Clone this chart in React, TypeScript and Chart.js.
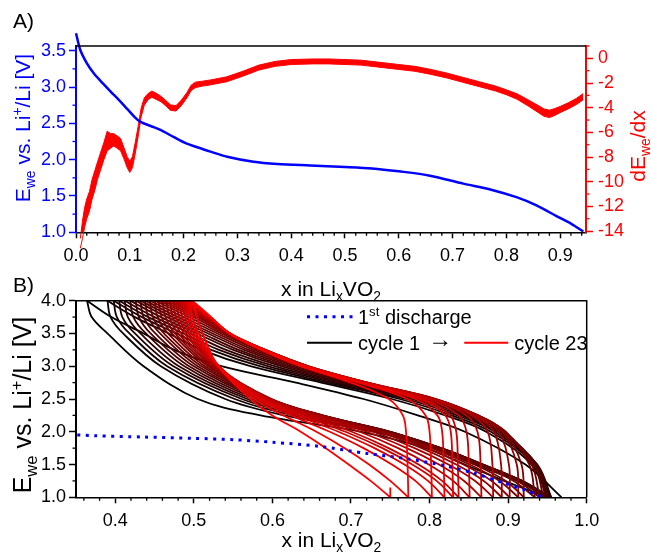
import React, { useEffect, useRef } from 'react';
import { Chart, registerables } from 'chart.js';

Chart.register(...registerables);

const FONT = '"Liberation Sans", Arial, Helvetica, sans-serif';
const W = 651;
const H = 554;
const TICK_FONT = 18;
const TITLE_FONT = 21;
const LEGEND_FONT = 20;

// ---------------- Panel A: first discharge E_we(x) ----------------
const firstX = [0, 0.008, 0.02, 0.033, 0.05, 0.064, 0.08, 0.095, 0.11, 0.12, 0.14, 0.157, 0.182, 0.206, 0.23, 0.25, 0.281, 0.33, 0.374, 0.435, 0.5, 0.55, 0.6, 0.658, 0.72, 0.77, 0.82, 0.856, 0.894, 0.92, 0.943];
const firstE = [3.74, 3.51, 3.33, 3.19, 3.05, 2.94, 2.82, 2.70, 2.58, 2.52, 2.46, 2.41, 2.31, 2.22, 2.16, 2.11, 2.04, 1.97, 1.94, 1.92, 1.90, 1.88, 1.84, 1.78, 1.67, 1.59, 1.48, 1.37, 1.22, 1.12, 1.01];

// Panel A: dE_we/dx (noisy trace: centre and half-width of the band)
const dX = [0.008, 0.012, 0.016, 0.020, 0.025, 0.030, 0.035, 0.040, 0.046, 0.052,
  0.058, 0.064, 0.070, 0.077, 0.083, 0.090, 0.095, 0.100, 0.105, 0.110,
  0.116, 0.121, 0.127, 0.134, 0.141, 0.150, 0.158, 0.166, 0.176, 0.186,
  0.196, 0.206, 0.214, 0.222, 0.235, 0.250, 0.280, 0.310, 0.340, 0.370,
  0.400, 0.440, 0.470, 0.500, 0.530, 0.560, 0.600, 0.630, 0.660, 0.690,
  0.720, 0.750, 0.780, 0.800, 0.820, 0.840, 0.857, 0.870, 0.880, 0.890,
  0.900, 0.915, 0.930, 0.943];
const dMid = [-15.0, -13.9, -12.9, -12.2, -11.6, -10.6, -9.9, -9.1, -8.3, -7.5,
  -6.7, -6.7, -6.6, -6.8, -7.0, -7.8, -8.4, -8.8, -8.4, -7.3,
  -5.8, -4.4, -3.5, -3.1, -2.9, -3.1, -3.3, -3.6, -4.0, -4.05,
  -3.6, -3.0, -2.4, -2.15, -2.05, -1.95, -1.7, -1.25, -0.75, -0.45,
  -0.3, -0.25, -0.25, -0.3, -0.35, -0.5, -0.7, -0.85, -1.1, -1.4,
  -1.75, -2.1, -2.45, -2.75, -3.1, -3.6, -4.05, -4.4, -4.5, -4.35,
  -4.15, -3.85, -3.5, -3.1];
const dSpread = [0.4, 0.7, 0.8, 0.8, 0.8, 0.8, 0.8, 0.7, 0.7, 0.7,
  0.8, 0.6, 0.5, 0.5, 0.5, 0.45, 0.45, 0.45, 0.45, 0.45,
  0.4, 0.35, 0.3, 0.25, 0.25, 0.25, 0.22, 0.22, 0.22, 0.22,
  0.22, 0.22, 0.22, 0.22, 0.2, 0.2, 0.2, 0.2, 0.2, 0.2,
  0.2, 0.2, 0.2, 0.2, 0.2, 0.2, 0.2, 0.2, 0.2, 0.2,
  0.2, 0.2, 0.2, 0.2, 0.22, 0.25, 0.28, 0.3, 0.3, 0.28,
  0.25, 0.25, 0.25, 0.25];

// ---------------- Panel B: cycles 1..23 ----------------
const dischargeV = [4.0, 3.75, 3.5, 3.0, 2.5, 2.25, 2.0, 1.75, 1.5, 1.25, 1.0];
const chargeV = [1.0, 1.5, 2.0, 2.25, 2.5, 2.75, 3.0, 3.25, 3.5, 3.75, 4.0];

const dischargeXByCycle = [
  [0.364, 0.370, 0.390, 0.436, 0.505, 0.585, 0.713, 0.795, 0.845, 0.895, 0.950],
  [0.390, 0.394, 0.410, 0.458, 0.540, 0.615, 0.730, 0.805, 0.858, 0.912, 0.952],
  [0.398, 0.402, 0.418, 0.466, 0.552, 0.627, 0.737, 0.809, 0.862, 0.915, 0.954],
  [0.405, 0.409, 0.425, 0.474, 0.561, 0.636, 0.741, 0.811, 0.865, 0.917, 0.955],
  [0.412, 0.416, 0.432, 0.481, 0.568, 0.643, 0.745, 0.813, 0.867, 0.918, 0.953],
  [0.419, 0.423, 0.439, 0.488, 0.574, 0.649, 0.747, 0.814, 0.868, 0.918, 0.950],
  [0.426, 0.430, 0.445, 0.494, 0.580, 0.654, 0.749, 0.815, 0.868, 0.917, 0.948],
  [0.432, 0.436, 0.451, 0.500, 0.585, 0.658, 0.750, 0.815, 0.868, 0.915, 0.945],
  [0.438, 0.442, 0.457, 0.505, 0.589, 0.661, 0.750, 0.814, 0.866, 0.912, 0.940],
  [0.444, 0.448, 0.462, 0.510, 0.592, 0.663, 0.749, 0.812, 0.863, 0.907, 0.934],
  [0.450, 0.454, 0.467, 0.514, 0.595, 0.664, 0.747, 0.808, 0.857, 0.897, 0.920],
  [0.455, 0.459, 0.472, 0.518, 0.597, 0.664, 0.744, 0.803, 0.851, 0.889, 0.913],
  [0.460, 0.464, 0.476, 0.521, 0.598, 0.663, 0.740, 0.797, 0.843, 0.879, 0.902],
  [0.465, 0.469, 0.480, 0.524, 0.599, 0.661, 0.735, 0.790, 0.834, 0.869, 0.892],
  [0.470, 0.473, 0.484, 0.526, 0.598, 0.658, 0.728, 0.781, 0.824, 0.858, 0.881],
  [0.474, 0.477, 0.488, 0.528, 0.597, 0.654, 0.720, 0.771, 0.812, 0.844, 0.866],
  [0.478, 0.481, 0.491, 0.529, 0.595, 0.649, 0.711, 0.760, 0.799, 0.830, 0.851],
  [0.482, 0.485, 0.494, 0.530, 0.592, 0.643, 0.701, 0.748, 0.786, 0.816, 0.837],
  [0.486, 0.489, 0.497, 0.531, 0.589, 0.637, 0.693, 0.740, 0.778, 0.809, 0.830],
  [0.489, 0.492, 0.500, 0.532, 0.586, 0.631, 0.684, 0.730, 0.768, 0.798, 0.819],
  [0.492, 0.495, 0.503, 0.532, 0.582, 0.624, 0.673, 0.716, 0.752, 0.782, 0.803],
  [0.495, 0.498, 0.506, 0.532, 0.577, 0.614, 0.656, 0.692, 0.723, 0.750, 0.773],
  [0.498, 0.504, 0.511, 0.531, 0.572, 0.600, 0.636, 0.668, 0.697, 0.725, 0.750],
];

const chargeXByCycle = [
  [0.968, 0.922, 0.845, 0.785, 0.716, 0.630, 0.535, 0.475, 0.436, 0.395, 0.364],
  [0.950, 0.930, 0.872, 0.820, 0.752, 0.662, 0.572, 0.510, 0.468, 0.425, 0.390],
  [0.952, 0.933, 0.878, 0.828, 0.762, 0.670, 0.584, 0.522, 0.478, 0.434, 0.398],
  [0.954, 0.935, 0.883, 0.835, 0.770, 0.677, 0.594, 0.532, 0.487, 0.442, 0.405],
  [0.955, 0.937, 0.887, 0.841, 0.777, 0.684, 0.603, 0.541, 0.496, 0.450, 0.412],
  [0.953, 0.937, 0.890, 0.846, 0.783, 0.690, 0.611, 0.550, 0.504, 0.458, 0.419],
  [0.950, 0.936, 0.892, 0.850, 0.788, 0.696, 0.618, 0.557, 0.511, 0.466, 0.426],
  [0.948, 0.935, 0.894, 0.854, 0.793, 0.701, 0.624, 0.564, 0.518, 0.473, 0.432],
  [0.945, 0.933, 0.895, 0.857, 0.797, 0.706, 0.630, 0.570, 0.524, 0.480, 0.438],
  [0.940, 0.930, 0.896, 0.859, 0.800, 0.710, 0.635, 0.576, 0.530, 0.487, 0.444],
  [0.934, 0.927, 0.897, 0.861, 0.803, 0.713, 0.639, 0.581, 0.535, 0.494, 0.450],
  [0.920, 0.917, 0.895, 0.862, 0.805, 0.716, 0.642, 0.585, 0.539, 0.500, 0.455],
  [0.913, 0.911, 0.893, 0.862, 0.807, 0.718, 0.644, 0.588, 0.542, 0.505, 0.460],
  [0.902, 0.901, 0.888, 0.860, 0.808, 0.720, 0.645, 0.590, 0.544, 0.509, 0.465],
  [0.892, 0.891, 0.882, 0.858, 0.808, 0.721, 0.646, 0.591, 0.545, 0.512, 0.470],
  [0.881, 0.880, 0.874, 0.854, 0.806, 0.721, 0.646, 0.591, 0.546, 0.515, 0.474],
  [0.866, 0.865, 0.861, 0.847, 0.803, 0.721, 0.646, 0.591, 0.546, 0.517, 0.478],
  [0.851, 0.850, 0.847, 0.837, 0.798, 0.720, 0.645, 0.591, 0.546, 0.518, 0.482],
  [0.837, 0.836, 0.834, 0.826, 0.792, 0.718, 0.644, 0.590, 0.546, 0.519, 0.486],
  [0.830, 0.829, 0.827, 0.820, 0.788, 0.717, 0.643, 0.590, 0.546, 0.520, 0.489],
  [0.819, 0.818, 0.816, 0.810, 0.782, 0.714, 0.642, 0.589, 0.546, 0.521, 0.492],
  [0.803, 0.802, 0.800, 0.795, 0.772, 0.710, 0.640, 0.588, 0.546, 0.521, 0.495],
  [0.773, 0.772, 0.770, 0.766, 0.748, 0.700, 0.636, 0.586, 0.545, 0.522, 0.498],
];

// short relaxation after the last discharge
const restX = [0.750, 0.750];
const restV = [1.0, 1.15];

// ---------------- helpers ----------------
type Part = [string, number?]; // 0 normal, 1 subscript, 2 superscript

function drawRich(ctx: CanvasRenderingContext2D, parts: Part[], x: number, y: number, size: number, color: string, align: 'left' | 'center', rotate = false) {
  ctx.save();
  ctx.translate(x, y);
  if (rotate) ctx.rotate(-Math.PI / 2);
  ctx.fillStyle = color;
  ctx.textBaseline = 'alphabetic';
  ctx.textAlign = 'left';
  const small = size * 0.66;
  const widths = parts.map(([t, s]) => {
    ctx.font = `${s ? small : size}px ${FONT}`;
    return ctx.measureText(t).width;
  });
  const total = widths.reduce((a, b) => a + b, 0);
  let cx = align === 'center' ? -total / 2 : 0;
  const base = size * 0.36;
  parts.forEach(([t, s], i) => {
    ctx.font = `${s ? small : size}px ${FONT}`;
    const dy = s === 1 ? size * 0.24 : s === 2 ? -size * 0.38 : 0;
    ctx.fillText(t, cx, base + dy);
    cx += widths[i];
  });
  ctx.restore();
  return total;
}

type MinorSpec = { id: string; step: number; major: number; side: 'bottom' | 'left' | 'right'; color: string };

function minorTicks(id: string, specs: MinorSpec[]) {
  return {
    id,
    afterDraw(chart: any) {
      const ctx = chart.ctx as CanvasRenderingContext2D;
      for (const s of specs) {
        const sc = chart.scales[s.id];
        const ratio = Math.round(s.major / s.step);
        const k0 = Math.ceil(sc.min / s.step - 1e-6);
        const k1 = Math.floor(sc.max / s.step + 1e-6);
        ctx.save();
        ctx.strokeStyle = s.color;
        ctx.lineWidth = 1.3;
        for (let k = k0; k <= k1; k++) {
          if (k % ratio === 0) continue;
          const p = sc.getPixelForValue(k * s.step);
          ctx.beginPath();
          if (s.side === 'bottom') { ctx.moveTo(p, sc.top); ctx.lineTo(p, sc.top + 3.5); }
          else if (s.side === 'left') { ctx.moveTo(sc.right, p); ctx.lineTo(sc.right - 3.5, p); }
          else { ctx.moveTo(sc.left, p); ctx.lineTo(sc.left + 3.5, p); }
          ctx.stroke();
        }
        ctx.restore();
      }
    },
  };
}

const pts = (xs: number[], ys: number[]) => xs.map((x, i) => ({ x, y: ys[i] }));
const cycleColor = (k: number) => `rgb(${Math.round((255 * k) / 22)},0,0)`;
const fmt1 = (v: any) => Number(v).toFixed(1);
const tickFont = { family: FONT, size: TICK_FONT };
const xTitle: Part[] = [['x in Li'], ['x', 1], ['VO'], ['2', 1]];
const eTitle: Part[] = [['E'], ['we', 1], [' vs. Li'], ['+', 2], ['/Li [V]']];

export default function App() {
  const refA = useRef<HTMLCanvasElement>(null);
  const refB = useRef<HTMLCanvasElement>(null);

  useEffect(() => {
    // ---------- chart A ----------
    const A_TOP = 46, A_BOTTOM = 232.3, XH = 30;
    const chartA = new Chart(refA.current as HTMLCanvasElement, {
      type: 'line',
      data: {
        datasets: [
          { data: pts(firstX, firstE), yAxisID: 'y', borderColor: '#0000ff', borderWidth: 2.5, pointRadius: 0, tension: 0.3, clip: false, order: 0 } as any,
          { data: pts(dX, dMid.map((m, i) => m + dSpread[i])), yAxisID: 'y2', borderColor: '#ff0000', borderWidth: 1, pointRadius: 0, tension: 0, fill: false, clip: false, order: 1 },
          { data: pts(dX, dMid.map((m, i) => m - dSpread[i])), yAxisID: 'y2', borderColor: '#ff0000', borderWidth: 1, pointRadius: 0, tension: 0, fill: '-1', backgroundColor: '#ff0000', clip: false, order: 2 },
        ],
      },
      options: {
        responsive: false,
        devicePixelRatio: 1,
        animation: false,
        events: [],
        layout: { padding: { left: 0, right: 0, top: A_TOP, bottom: H - A_BOTTOM - XH } },
        plugins: { legend: { display: false }, tooltip: { enabled: false } },
        scales: {
          x: {
            type: 'linear', min: 0, max: 0.948,
            ticks: { stepSize: 0.1, includeBounds: false, color: '#000', font: tickFont, callback: fmt1, padding: 7, maxRotation: 0, autoSkip: false },
            grid: { drawOnChartArea: false, tickLength: 6, tickColor: '#000', tickWidth: 1.5 },
            border: { color: '#000', width: 1.5 },
            afterFit: (s: any) => { s.height = XH; },
          },
          y: {
            type: 'linear', position: 'left', min: 1.0, max: 3.565,
            ticks: { stepSize: 0.5, includeBounds: false, color: '#0000ff', font: tickFont, callback: fmt1, padding: 3 },
            grid: { drawOnChartArea: false, tickLength: 7, tickColor: '#0000ff', tickWidth: 1.5 },
            border: { color: '#0000ff', width: 2 },
            afterFit: (s: any) => { s.width = 76; },
          },
          y2: {
            type: 'linear', position: 'right', min: -14.1, max: 1.0,
            ticks: { stepSize: 2, includeBounds: false, color: '#ff0000', font: tickFont, callback: (v: any) => String(Math.round(Number(v))), padding: 5 },
            grid: { drawOnChartArea: false, tickLength: 7, tickColor: '#ff0000', tickWidth: 1.5 },
            border: { color: '#ff0000', width: 2 },
            afterFit: (s: any) => { s.width = 65; },
          },
        } as any,
      },
      plugins: [
        minorTicks('minorA', [
          { id: 'x', step: 0.02, major: 0.1, side: 'bottom', color: '#000' },
          { id: 'y', step: 0.25, major: 0.5, side: 'left', color: '#0000ff' },
          { id: 'y2', step: 1, major: 2, side: 'right', color: '#ff0000' },
        ]),
        {
          id: 'textA',
          afterDraw(chart: any) {
            const ctx = chart.ctx as CanvasRenderingContext2D;
            const a = chart.chartArea;
            ctx.save();
            ctx.strokeStyle = '#000';
            ctx.lineWidth = 1.5;
            ctx.beginPath();
            ctx.moveTo(a.left, a.top);
            ctx.lineTo(a.right, a.top);
            ctx.stroke();
            ctx.restore();
            drawRich(ctx, [['A)']], 13, 20, TITLE_FONT, '#000', 'left');
            drawRich(ctx, eTitle, 22, 128, 21, '#0000ff', 'center', true);
            drawRich(ctx, [['dE'], ['we', 1], ['/dx']], 637, 146, TITLE_FONT, '#ff0000', 'center', true);
            drawRich(ctx, xTitle, (a.left + a.right) / 2, 288, TITLE_FONT, '#000', 'center');
          },
        },
      ],
    } as any);

    // ---------- chart B ----------
    const B_TOP = 300.7, B_BOTTOM = 497.3, B_RIGHT = 586.7;
    const cycleSets: any[] = [];
    for (let k = 0; k < 23; k++) {
      const c = cycleColor(k);
      const ord = 1 + (22 - k);
      cycleSets.push({ data: pts(chargeXByCycle[k], chargeV), borderColor: c, borderWidth: 1.8, pointRadius: 0, tension: 0.35, order: ord });
      cycleSets.push({ data: pts(dischargeXByCycle[k], dischargeV), borderColor: c, borderWidth: 1.8, pointRadius: 0, tension: 0.35, order: ord });
    }
    cycleSets.push({ data: pts(restX, restV), borderColor: cycleColor(22), borderWidth: 1.8, pointRadius: 0, order: 1 });

    const chartB = new Chart(refB.current as HTMLCanvasElement, {
      type: 'line',
      data: {
        datasets: [
          { data: pts(firstX, firstE), borderColor: '#0000ff', borderWidth: 3, borderDash: [3, 5.5], pointRadius: 0, tension: 0.3, order: 0 },
          ...cycleSets,
        ],
      },
      options: {
        responsive: false,
        devicePixelRatio: 1,
        animation: false,
        events: [],
        layout: { padding: { left: 0, right: W - B_RIGHT, top: B_TOP, bottom: H - B_BOTTOM - XH } },
        plugins: { legend: { display: false }, tooltip: { enabled: false } },
        scales: {
          x: {
            type: 'linear', min: 0.35, max: 1.0,
            ticks: { stepSize: 0.1, includeBounds: false, color: '#000', font: tickFont, callback: fmt1, padding: 7, maxRotation: 0, autoSkip: false },
            grid: { drawOnChartArea: false, tickLength: 6, tickColor: '#000', tickWidth: 1.5 },
            border: { color: '#000', width: 1.5 },
            afterFit: (s: any) => { s.height = XH; },
          },
          y: {
            type: 'linear', position: 'left', min: 1.0, max: 4.0,
            ticks: { stepSize: 0.5, includeBounds: false, color: '#000', font: tickFont, callback: fmt1, padding: 3 },
            grid: { drawOnChartArea: false, tickLength: 7, tickColor: '#000', tickWidth: 1.5 },
            border: { color: '#000', width: 2 },
            afterFit: (s: any) => { s.width = 76; },
          },
        } as any,
      },
      plugins: [
        minorTicks('minorB', [
          { id: 'x', step: 0.02, major: 0.1, side: 'bottom', color: '#000' },
          { id: 'y', step: 0.25, major: 0.5, side: 'left', color: '#000' },
        ]),
        {
          id: 'textB',
          afterDraw(chart: any) {
            const ctx = chart.ctx as CanvasRenderingContext2D;
            const a = chart.chartArea;
            ctx.save();
            ctx.strokeStyle = '#000';
            ctx.lineWidth = 1.5;
            ctx.beginPath();
            ctx.moveTo(a.left, a.top);
            ctx.lineTo(a.right, a.top);
            ctx.lineTo(a.right, a.bottom);
            ctx.stroke();

            // legend
            const lx = a.left + 231;
            const y1 = a.top + 16;
            const y2 = a.top + 42;
            ctx.lineWidth = 3;
            ctx.strokeStyle = '#0000ff';
            ctx.setLineDash([3, 5.5]);
            ctx.beginPath();
            ctx.moveTo(lx, y1);
            ctx.lineTo(lx + 46, y1);
            ctx.stroke();
            ctx.setLineDash([]);
            ctx.lineWidth = 2;
            ctx.strokeStyle = '#000';
            ctx.beginPath();
            ctx.moveTo(lx, y2);
            ctx.lineTo(lx + 45, y2);
            ctx.stroke();
            ctx.restore();

            drawRich(ctx, [['1'], ['st', 2], [' discharge']], lx + 51, y1, LEGEND_FONT, '#000', 'left');
            let tx = lx + 51;
            tx += drawRich(ctx, [['cycle 1']], tx, y2, LEGEND_FONT, '#000', 'left');
            tx += 8;
            tx += drawRich(ctx, [['\u2192']], tx, y2 - 4, 24, '#000', 'left');
            tx += 12;
            ctx.save();
            ctx.lineWidth = 2;
            ctx.strokeStyle = '#ff0000';
            ctx.beginPath();
            ctx.moveTo(tx, y2);
            ctx.lineTo(tx + 44, y2);
            ctx.stroke();
            ctx.restore();
            drawRich(ctx, [['cycle 23']], tx + 50, y2, LEGEND_FONT, '#000', 'left');

            drawRich(ctx, [['B)']], 13, 284, TITLE_FONT, '#000', 'left');
            drawRich(ctx, eTitle, 22, 405, 25, '#000', 'center', true);
            drawRich(ctx, xTitle, (a.left + a.right) / 2, 539, TITLE_FONT, '#000', 'center');
          },
        },
      ],
    } as any);

    return () => {
      chartA.destroy();
      chartB.destroy();
    };
  }, []);

  return (
    <div style={{ position: 'fixed', left: 0, top: 0, width: W, height: H, background: '#fff' }}>
      <canvas ref={refA} width={W} height={H} style={{ position: 'absolute', left: 0, top: 0, width: W, height: H }} />
      <canvas ref={refB} width={W} height={H} style={{ position: 'absolute', left: 0, top: 0, width: W, height: H }} />
    </div>
  );
}
